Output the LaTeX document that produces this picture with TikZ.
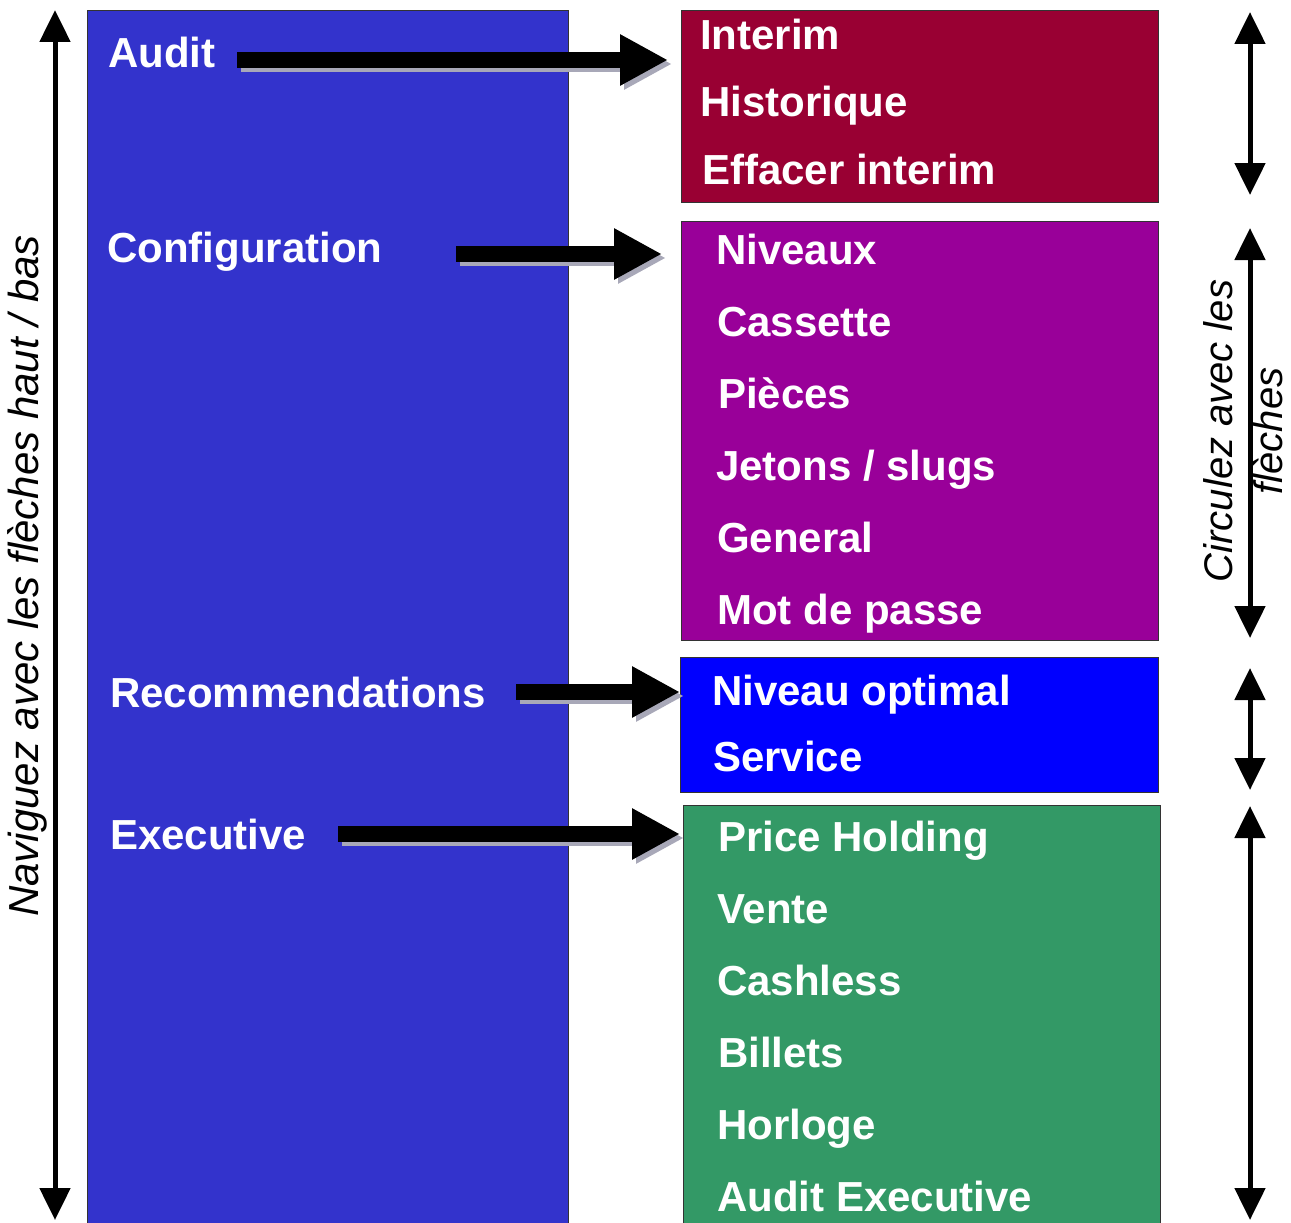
\documentclass[tikz,border=0pt]{standalone}
\usepackage{fontspec}
\setmainfont{Liberation Sans}
\usetikzlibrary{arrows.meta}
\definecolor{bigblue}{HTML}{3333CC}
\definecolor{auditred}{HTML}{990033}
\definecolor{confpurple}{HTML}{990099}
\definecolor{recblue}{HTML}{0000FF}
\definecolor{execgreen}{HTML}{339966}
\definecolor{shadowgrey}{HTML}{A8A8B8}
\tikzset{
  panel/.style={draw=black!80, line width=1.2pt, rectangle, inner sep=0pt, anchor=north west},
  item/.style={text=white, inner sep=0pt, anchor=base west, font=\fontsize{42}{50}\selectfont\bfseries},
  mainlbl/.style={item},
  bigarrow/.style={line width=16pt, -{Triangle[length=48pt,width=48pt]}},
  bigshadow/.style={bigarrow, draw=shadowgrey, fill=shadowgrey, transform canvas={shift={(4pt,-4pt)}}},
  navarrow/.style={line width=5pt, {Triangle[length=32pt,width=30pt]}-{Triangle[length=32pt,width=30pt]}},
  navtext/.style={rotate=90, font=\fontsize{42}{50}\selectfont\itshape, align=center, inner sep=0pt},
}
\begin{document}
\begin{tikzpicture}[x=1pt,y=-1pt]
\useasboundingbox (0,0) rectangle (1291,1223);
% main column
\node[panel, fill=bigblue, minimum width=481pt, minimum height=1230pt] (main) at (87,10) {};
% sub panels
\node[panel, fill=auditred, minimum width=477pt, minimum height=192pt] (boxA) at (681,10) {};
\node[panel, fill=confpurple, minimum width=477pt, minimum height=419pt] (boxC) at (681,221) {};
\node[panel, fill=recblue, minimum width=478pt, minimum height=135pt] (boxR) at (680,657) {};
\node[panel, fill=execgreen, minimum width=477pt, minimum height=430pt] (boxE) at (683,805) {};
% main labels
\node[mainlbl] (lA) at (108,68) {Audit};
\node[mainlbl] (lC) at (107,262) {Configuration};
\node[mainlbl] (lR) at (110,707) {Recommendations};
\node[mainlbl] (lE) at (110,849) {Executive};
% items
\node[item] (a1) at (700,50) {Interim};
\node[item] (a2) at (700,116) {Historique};
\node[item] (a3) at (702,184) {Effacer interim};
\node[item] (c1) at (716,264) {Niveaux};
\node[item] (c2) at (717,336) {Cassette};
\node[item] (c3) at (718,408) {Pièces};
\node[item] (c4) at (716,480) {Jetons / slugs};
\node[item] (c5) at (717,552) {General};
\node[item] (c6) at (717,624) {Mot de passe};
\node[item] (r1) at (712,705) {Niveau optimal};
\node[item] (r2) at (713,771) {Service};
\node[item] (e1) at (718,851) {Price Holding};
\node[item] (e2) at (717,923) {Vente};
\node[item] (e3) at (717,995) {Cashless};
\node[item] (e4) at (718,1067) {Billets};
\node[item] (e5) at (717,1139) {Horloge};
\node[item] (e6) at (717,1211) {Audit Executive};
% arrow starts
\coordinate (sA) at (237,60);
\coordinate (sC) at (456,254);
\coordinate (sR) at (516,692);
\coordinate (sE) at (338,834);
% big arrows with shadows
\draw[bigshadow, shorten >=13pt] (sA) -- (sA -| boxA.west);
\draw[bigshadow, shorten >=19pt] (sC) -- (sC -| boxC.west);
\draw[bigshadow] (sR) -- (sR -| boxR.west);
\draw[bigshadow, shorten >=3pt] (sE) -- (sE -| boxE.west);
\draw[bigarrow, shorten >=13pt] (sA) -- (sA -| boxA.west);
\draw[bigarrow, shorten >=19pt] (sC) -- (sC -| boxC.west);
\draw[bigarrow] (sR) -- (sR -| boxR.west);
\draw[bigarrow, shorten >=3pt] (sE) -- (sE -| boxE.west);
% navigation arrows
\coordinate (nT) at (55,10);
\coordinate (nB) at (55,1220);
\draw[navarrow] (nT) -- (nB);
\coordinate (aT) at (1250,12);
\coordinate (aB) at (1250,195);
\coordinate (cT) at (1250,228);
\coordinate (cB) at (1250,638);
\coordinate (rT) at (1250,668);
\coordinate (rB) at (1250,790);
\coordinate (eT) at (1250,806);
\coordinate (eB) at (1250,1220);
\draw[navarrow] (aT) -- (aB);
\draw[navarrow] (cT) -- (cB);
\draw[navarrow] (rT) -- (rB);
\draw[navarrow] (eT) -- (eB);
% rotated texts
\node[navtext] (navL) at (27,576) {Naviguez avec les flèches haut / bas};
\node[navtext, font=\fontsize{40}{50}\selectfont\itshape] (navR) at (1243,431) {Circulez avec les\\flèches};
\end{tikzpicture}
\end{document}
